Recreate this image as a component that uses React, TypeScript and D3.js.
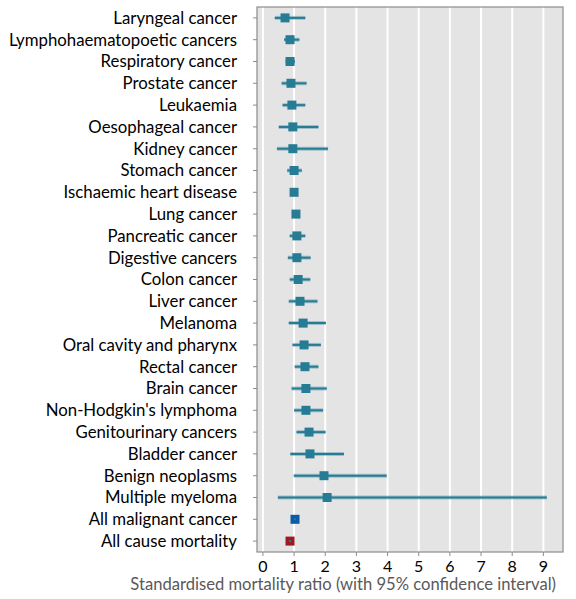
import * as d3 from 'd3';

// categories top to bottom
const categories = [
  'Laryngeal cancer', 'Lymphohaematopoetic cancers', 'Respiratory cancer', 'Prostate cancer',
  'Leukaemia', 'Oesophageal cancer', 'Kidney cancer', 'Stomach cancer', 'Ischaemic heart disease',
  'Lung cancer', 'Pancreatic cancer', 'Digestive cancers', 'Colon cancer', 'Liver cancer',
  'Melanoma', 'Oral cavity and pharynx', 'Rectal cancer', 'Brain cancer', "Non-Hodgkin's lymphoma",
  'Genitourinary cancers', 'Bladder cancer', 'Benign neoplasms', 'Multiple myeloma',
  'All malignant cancer', 'All cause mortality',
];
const smr = [0.71, 0.87, 0.87, 0.9, 0.93, 0.96, 0.96, 1.0, 1.0, 1.06, 1.09, 1.09, 1.13, 1.19,
  1.29, 1.32, 1.35, 1.38, 1.38, 1.48, 1.51, 1.96, 2.06, 1.03, 0.87];
const lower = [0.38, 0.68, 0.73, 0.6, 0.63, 0.51, 0.45, 0.78, 0.95, 1.0, 0.86, 0.8, 0.86, 0.83,
  0.83, 0.95, 1.02, 0.92, 1.0, 1.08, 0.88, 0.99, 0.48, 1.0, 0.84];
const upper = [1.36, 1.17, 1.03, 1.4, 1.36, 1.78, 2.09, 1.25, 1.05, 1.12, 1.36, 1.53, 1.52, 1.75,
  2.02, 1.86, 1.78, 2.05, 1.93, 2.01, 2.6, 3.97, 9.11, 1.06, 0.9];
const xTicks = [0, 1, 2, 3, 4, 5, 6, 7, 8, 9];

const W = 576, H = 599;
const left = 257, right = 563, top = 7, bottom = 552;
const font = 'Lato, "Open Sans", sans-serif';

function markColor(name: string) {
  if (name === 'All malignant cancer') return '#0b5ca8';
  if (name === 'All cause mortality') return '#9b1b1e';
  return '#267c94';
}

export default function App() {
  const x = d3.scaleLinear().domain([-0.19, 9.63]).range([left, right]);
  const y = d3.scaleBand<string>().domain(categories).range([top, bottom]).padding(0);
  const cy = (c: string) => (y(c) ?? 0) + y.bandwidth() / 2;
  const sq = 9;

  return (
    <svg width={W} height={H} style={{ position: 'absolute', left: 0, top: 0, fontFamily: font }}>
      <rect x={left} y={top} width={right - left} height={bottom - top} fill="#e4e4e4" />
      {xTicks.map(t => (
        <line key={'g' + t} x1={x(t)} x2={x(t)} y1={top} y2={bottom} stroke="#ffffff" strokeWidth={2} />
      ))}
      <rect x={left} y={top} width={right - left} height={bottom - top} fill="none" stroke="#8c8c8c" strokeWidth={1.2} />
      {categories.map(c => (
        <g key={c}>
          <line x1={left - 4} x2={left} y1={cy(c)} y2={cy(c)} stroke="#8c8c8c" />
          <text x={237} y={cy(c)} dy="0.35em" textAnchor="end" fontSize={16.8} fill="#000">{c}</text>
        </g>
      ))}
      {xTicks.map(t => (
        <g key={'t' + t}>
          <line x1={x(t)} x2={x(t)} y1={bottom} y2={bottom + 4} stroke="#8c8c8c" />
          <text x={x(t)} y={572} textAnchor="middle" fontSize={16} fill="#000">{t}</text>
        </g>
      ))}
      {categories.map((c, i) => (
        <g key={'m' + c}>
          <line x1={x(lower[i])} x2={x(upper[i])} y1={cy(c)} y2={cy(c)} stroke="#267c94" strokeOpacity={0.35} strokeWidth={4} />
          <line x1={x(lower[i])} x2={x(upper[i])} y1={cy(c)} y2={cy(c)} stroke="#267c94" strokeWidth={2} />
          <rect x={x(smr[i]) - sq / 2} y={cy(c) - sq / 2} width={sq} height={sq} fill={markColor(c)} />
          {i >= categories.length - 2 && (
            <line x1={x(lower[i])} x2={x(upper[i])} y1={cy(c)} y2={cy(c)} stroke="#267c94" strokeWidth={2} />
          )}
        </g>
      ))}
      <text x={556} y={590} textAnchor="end" fontSize={16.6} fill="#595959">
        Standardised mortality ratio (with 95% confidence interval)
      </text>
    </svg>
  );
}
